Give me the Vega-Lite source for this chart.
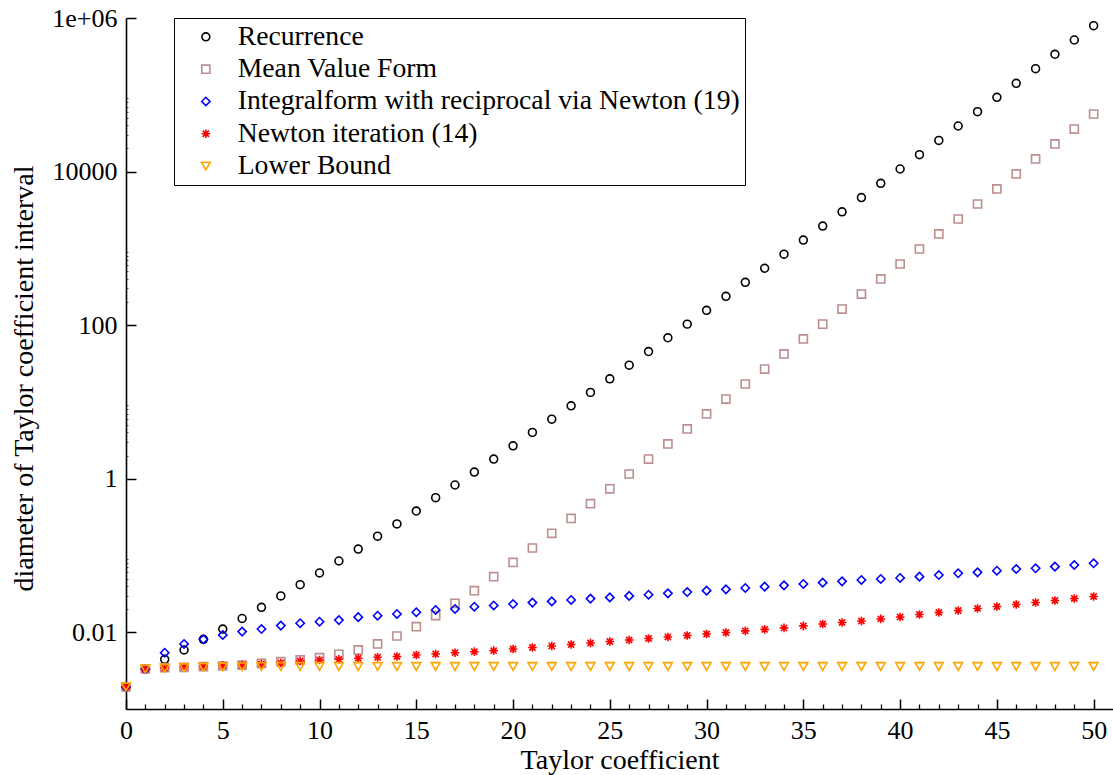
{
  "$schema": "https://vega.github.io/schema/vega-lite/v6.json",
  "width": 987,
  "height": 691,
  "autosize": {"type": "none"},
  "padding": {"left": 126, "top": 18, "right": 0, "bottom": 66},
  "background": "white",
  "config": {
    "view": {"stroke": null},
    "font": "Liberation Serif",
    "axis": {"grid": false, "labelFont": "Liberation Serif", "titleFont": "Liberation Serif", "labelColor": "black", "titleColor": "black", "titleFontWeight": "normal", "domainColor": "black", "tickColor": "black", "labelFlush": false},
    "legend": {"labelFont": "Liberation Serif", "titleFont": "Liberation Serif"}
  },
  "resolve": {"axis": {"x": "independent", "y": "independent"}},
  "data": {"values": [
    {"k":0,"rec":0.00194,"mvf":0.00194,"int":0.00194,"newt":0.00194,"lb":0.00194},
    {"k":1,"rec":0.00332,"mvf":0.00332,"int":0.00332,"newt":0.00332,"lb":0.00332},
    {"k":2,"rec":0.00444,"mvf":0.00345,"int":0.00541,"newt":0.00342,"lb":0.00340},
    {"k":3,"rec":0.00587,"mvf":0.00349,"int":0.00703,"newt":0.00353,"lb":0.00345},
    {"k":4,"rec":0.00809,"mvf":0.00356,"int":0.00809,"newt":0.00358,"lb":0.00350},
    {"k":5,"rec":0.0110,"mvf":0.00363,"int":0.00920,"newt":0.00369,"lb":0.00353},
    {"k":6,"rec":0.0151,"mvf":0.00374,"int":0.0102,"newt":0.00374,"lb":0.00355},
    {"k":7,"rec":0.0211,"mvf":0.00394,"int":0.0110,"newt":0.00386,"lb":0.00357},
    {"k":8,"rec":0.0297,"mvf":0.00413,"int":0.0122,"newt":0.00397,"lb":0.00358},
    {"k":9,"rec":0.0416,"mvf":0.00435,"int":0.0131,"newt":0.00422,"lb":0.00358},
    {"k":10,"rec":0.0591,"mvf":0.00466,"int":0.0137,"newt":0.00435,"lb":0.00358},
    {"k":11,"rec":0.0847,"mvf":0.00516,"int":0.0144,"newt":0.00444,"lb":0.00358},
    {"k":12,"rec":0.121,"mvf":0.00587,"int":0.0157,"newt":0.00458,"lb":0.00358},
    {"k":13,"rec":0.178,"mvf":0.00703,"int":0.0164,"newt":0.00472,"lb":0.00358},
    {"k":14,"rec":0.257,"mvf":0.00893,"int":0.0173,"newt":0.00483,"lb":0.00358},
    {"k":15,"rec":0.379,"mvf":0.0118,"int":0.0182,"newt":0.00505,"lb":0.00358},
    {"k":16,"rec":0.565,"mvf":0.0165,"int":0.0195,"newt":0.00521,"lb":0.00358},
    {"k":17,"rec":0.827,"mvf":0.0238,"int":0.0201,"newt":0.00541,"lb":0.00358},
    {"k":18,"rec":1.22,"mvf":0.0348,"int":0.0215,"newt":0.00558,"lb":0.00358},
    {"k":19,"rec":1.80,"mvf":0.0529,"int":0.0223,"newt":0.00575,"lb":0.00358},
    {"k":20,"rec":2.68,"mvf":0.0810,"int":0.0233,"newt":0.00605,"lb":0.00358},
    {"k":21,"rec":4.00,"mvf":0.125,"int":0.0243,"newt":0.00633,"lb":0.00358},
    {"k":22,"rec":5.95,"mvf":0.194,"int":0.0252,"newt":0.00662,"lb":0.00358},
    {"k":23,"rec":8.89,"mvf":0.303,"int":0.0263,"newt":0.00692,"lb":0.00358},
    {"k":24,"rec":13.3,"mvf":0.472,"int":0.0274,"newt":0.00724,"lb":0.00358},
    {"k":25,"rec":20.0,"mvf":0.738,"int":0.0284,"newt":0.00757,"lb":0.00358},
    {"k":26,"rec":30.1,"mvf":1.15,"int":0.0297,"newt":0.00792,"lb":0.00358},
    {"k":27,"rec":45.3,"mvf":1.80,"int":0.0308,"newt":0.00829,"lb":0.00358},
    {"k":28,"rec":68.4,"mvf":2.83,"int":0.0321,"newt":0.00867,"lb":0.00358},
    {"k":29,"rec":103,"mvf":4.44,"int":0.0334,"newt":0.00907,"lb":0.00358},
    {"k":30,"rec":156,"mvf":6.96,"int":0.0348,"newt":0.00948,"lb":0.00358},
    {"k":31,"rec":237,"mvf":10.9,"int":0.0362,"newt":0.00992,"lb":0.00358},
    {"k":32,"rec":361,"mvf":17.1,"int":0.0377,"newt":0.0104,"lb":0.00358},
    {"k":33,"rec":550,"mvf":26.8,"int":0.0392,"newt":0.0109,"lb":0.00358},
    {"k":34,"rec":839,"mvf":42.1,"int":0.0408,"newt":0.0114,"lb":0.00358},
    {"k":35,"rec":1280,"mvf":66.0,"int":0.0425,"newt":0.0121,"lb":0.00358},
    {"k":36,"rec":1950,"mvf":103,"int":0.0442,"newt":0.0128,"lb":0.00358},
    {"k":37,"rec":2990,"mvf":162,"int":0.0460,"newt":0.0134,"lb":0.00358},
    {"k":38,"rec":4580,"mvf":254,"int":0.0479,"newt":0.0140,"lb":0.00358},
    {"k":39,"rec":7030,"mvf":399,"int":0.0494,"newt":0.0149,"lb":0.00358},
    {"k":40,"rec":10800,"mvf":625,"int":0.0509,"newt":0.0158,"lb":0.00358},
    {"k":41,"rec":16600,"mvf":980,"int":0.0529,"newt":0.0170,"lb":0.00358},
    {"k":42,"rec":25400,"mvf":1540,"int":0.0556,"newt":0.0181,"lb":0.00358},
    {"k":43,"rec":39200,"mvf":2410,"int":0.0586,"newt":0.0192,"lb":0.00358},
    {"k":44,"rec":60200,"mvf":3780,"int":0.0603,"newt":0.0204,"lb":0.00358},
    {"k":45,"rec":92700,"mvf":5930,"int":0.0633,"newt":0.0216,"lb":0.00358},
    {"k":46,"rec":141000,"mvf":9300,"int":0.0666,"newt":0.0230,"lb":0.00358},
    {"k":47,"rec":219000,"mvf":14600,"int":0.0680,"newt":0.0244,"lb":0.00358},
    {"k":48,"rec":337000,"mvf":22900,"int":0.0714,"newt":0.0259,"lb":0.00358},
    {"k":49,"rec":517000,"mvf":35800,"int":0.0751,"newt":0.0275,"lb":0.00358},
    {"k":50,"rec":794000,"mvf":56200,"int":0.0790,"newt":0.0292,"lb":0.00358}
  ]},
  "transform": [{"fold": ["rec", "mvf", "int", "newt", "lb"], "as": ["series", "value"]}],
  "layer": [
    {
      "mark": {"type": "point", "opacity": 0},
      "encoding": {
        "x": {"field": "k", "type": "quantitative", "scale": {"domain": [0, 51], "nice": false, "zero": false},
          "axis": {"orient": "bottom", "values": [1,2,3,4,6,7,8,9,11,12,13,14,16,17,18,19,21,22,23,24,26,27,28,29,31,32,33,34,36,37,38,39,41,42,43,44,46,47,48,49], "tickSize": -5, "tickWidth": 1.3, "labels": false, "domain": false, "title": null}},
        "y": {"field": "value", "type": "quantitative", "scale": {"type": "log", "domain": [0.001, 1000000], "nice": false},
          "axis": {"orient": "left", "values": [0.02,0.03,0.04,0.05,0.06,0.07,0.08,0.09,2,3,4,5,6,7,8,9,200,300,400,500,600,700,800,900,20000,30000,40000,50000,60000,70000,80000,90000], "tickSize": -2, "tickWidth": 1, "tickColor": "#555555", "labels": false, "domain": false, "title": null}}
      }
    },
    {
      "mark": {"type": "point", "filled": false, "strokeWidth": 1.6, "opacity": 1},
      "encoding": {
        "x": {"field": "k", "type": "quantitative", "scale": {"domain": [0, 51], "nice": false, "zero": false},
          "axis": {"orient": "bottom", "values": [0,5,10,15,20,25,30,35,40,45,50], "tickSize": -10, "tickWidth": 1.5, "domainWidth": 1.6, "labelFont": "Liberation Serif", "labelFontSize": 26, "labelPadding": 18, "labelFlush": false, "title": "Taylor coefficient", "titleFont": "Liberation Serif", "titleFontSize": 28, "titleY": 59, "titleBaseline": "alphabetic", "titleAlign": "center"}},
        "y": {"field": "value", "type": "quantitative", "scale": {"type": "log", "domain": [0.001, 1000000], "nice": false},
          "axis": {"orient": "left", "values": [0.01, 1, 100, 10000, 1000000], "tickSize": -10, "tickWidth": 1.5, "domainWidth": 1.6, "labelFont": "Liberation Serif", "labelFontSize": 26, "labelPadding": 19, "labelFlush": false, "labelExpr": "datum.value >= 1000000 ? '1e+06' : format(datum.value, '~g')", "title": "diameter of Taylor coefficient interval", "titleFont": "Liberation Serif", "titleFontSize": 28, "titleX": -102, "titleY": 360, "titleAlign": "center", "titleBaseline": "middle", "titleAngle": -90}},
        "color": {"field": "series", "type": "nominal",
          "scale": {"domain": ["rec", "mvf", "int", "newt", "lb"], "range": ["#000000", "#bc8f8f", "#0000ff", "#ff0000", "#ffa500"]},
          "legend": {"title": null, "orient": "none", "legendX": 48, "legendY": 0, "padding": 5, "strokeColor": "black", "fillColor": "white",
            "labelFont": "Liberation Serif", "labelFontSize": 27.7, "labelColor": "black", "labelLimit": 1000, "symbolSize": 80, "symbolStrokeWidth": 1.6, "symbolOffset": 13, "labelOffset": 18, "rowPadding": 3.3,
            "labelExpr": "datum.value == 'rec' ? 'Recurrence' : datum.value == 'mvf' ? 'Mean Value Form' : datum.value == 'int' ? 'Integralform with reciprocal via Newton (19)' : datum.value == 'newt' ? 'Newton iteration (14)' : 'Lower Bound'"}},
        "shape": {"field": "series", "type": "nominal",
          "scale": {"domain": ["rec", "mvf", "int", "newt", "lb"], "range": ["circle", "square", "diamond", "M-1,0L1,0M0,-1L0,1M-0.72,-0.72L0.72,0.72M-0.72,0.72L0.72,-0.72", "triangle-down"]}},
        "size": {"field": "series", "type": "nominal",
          "scale": {"domain": ["rec", "mvf", "int", "newt", "lb"], "range": [62, 78, 125, 130, 105]}, "legend": null}
      }
    }
  ]
}
